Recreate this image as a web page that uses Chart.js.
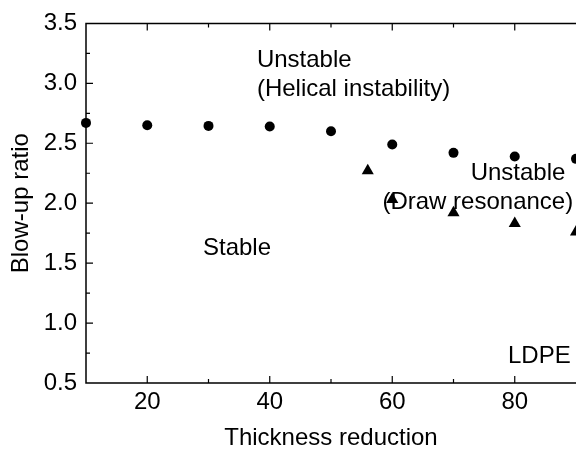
<!DOCTYPE html>
<html>
<head>
<meta charset="utf-8">
<script src="https://cdn.jsdelivr.net/npm/chart.js@4/dist/chart.umd.min.js"></script>
<style>
  body { margin: 0; background: #fff; }
</style>
</head>
<body>
<canvas id="blowChart" width="576" height="453"></canvas>
<script>
// data
var helicalX = [10, 20, 30, 40, 50, 60, 70, 80, 90];
var helicalY = [2.67, 2.65, 2.645, 2.64, 2.60, 2.49, 2.42, 2.39, 2.37];
var drawX = [56, 60, 70, 80, 90];
var drawY = [2.27, 2.03, 1.92, 1.83, 1.76];
var xTickLabels = [20, 40, 60, 80];
var yTickLabels = [0.5, 1.0, 1.5, 2.0, 2.5, 3.0, 3.5];

// region labels (data coordinates, left-aligned)
var notes = [
    { text: 'Unstable', x: 37.9, y: 3.19 },
    { text: '(Helical instability)', x: 37.9, y: 2.95 },
    { text: 'Stable', x: 29.1, y: 1.62 },
    { text: 'Unstable', x: 72.8, y: 2.245 },
    { text: '(Draw resonance)', x: 58.4, y: 2.005 },
    { text: 'LDPE', x: 78.9, y: 0.725 }
];

var FONT = 'Arial, "Liberation Sans", sans-serif';
var FSIZE = 24;

function toPoints(xs, ys) {
    return xs.map(function (x, i) { return { x: x, y: ys[i] }; });
}

// frame, inward ticks and the text labels
var framePlugin = {
    id: 'frame',
    afterDraw: function (chart) {
        var c = chart.ctx, a = chart.chartArea;
        var xs = chart.scales.x, ys = chart.scales.y;
        c.save();
        c.strokeStyle = '#000';
        c.lineWidth = 1.5;
        c.beginPath();
        c.moveTo(a.right + 2, a.top);
        c.lineTo(a.left, a.top);
        c.lineTo(a.left, a.bottom);
        c.lineTo(a.right + 2, a.bottom);
        c.stroke();

        c.lineWidth = 1.2;
        c.beginPath();
        for (var v = 20; v <= 80; v += 10) {
            var px = xs.getPixelForValue(v);
            var len = (v % 20 === 0) ? 7 : 4;
            c.moveTo(px, a.bottom);
            c.lineTo(px, a.bottom - len);
            c.moveTo(px, a.top);
            c.lineTo(px, a.top + len);
        }
        for (var t = 0.75; t < 3.5; t += 0.25) {
            var py = ys.getPixelForValue(t);
            var l = (Math.abs(t * 2 - Math.round(t * 2)) < 1e-6) ? 7 : 4;
            c.moveTo(a.left, py);
            c.lineTo(a.left + l, py);
        }
        c.stroke();

        c.fillStyle = '#000';
        c.font = FSIZE + 'px ' + FONT;
        c.textAlign = 'left';
        c.textBaseline = 'middle';
        notes.forEach(function (n) {
            c.fillText(n.text, xs.getPixelForValue(n.x), ys.getPixelForValue(n.y));
        });
        c.restore();
    }
};

new Chart(document.getElementById('blowChart').getContext('2d'), {
    type: 'scatter',
    data: {
        datasets: [{
            label: 'Helical instability',
            data: toPoints(helicalX, helicalY),
            pointStyle: 'circle',
            pointRadius: 5,
            backgroundColor: '#000',
            borderColor: '#000',
            borderWidth: 0
        }, {
            label: 'Draw resonance',
            data: toPoints(drawX, drawY),
            pointStyle: 'triangle',
            pointRadius: 7,
            backgroundColor: '#000',
            borderColor: '#000',
            borderWidth: 0
        }]
    },
    options: {
        responsive: false,
        animation: false,
        clip: false,
        layout: { autoPadding: false, padding: { top: 20, right: 0, left: 0, bottom: 0 } },
        plugins: {
            legend: { display: false },
            tooltip: { enabled: false }
        },
        scales: {
            x: {
                type: 'linear',
                min: 10,
                max: 90,
                grid: { display: false, drawTicks: false },
                border: { display: false },
                afterBuildTicks: function (s) {
                    s.ticks = xTickLabels.map(function (v) { return { value: v }; });
                },
                afterFit: function (s) {
                    s.height = 70;
                    s.paddingLeft = 0;
                    s.paddingRight = 0;
                },
                ticks: {
                    color: '#000',
                    padding: 5,
                    font: { family: FONT, size: FSIZE }
                },
                title: {
                    display: true,
                    text: 'Thickness reduction',
                    color: '#000',
                    font: { family: FONT, size: FSIZE },
                    padding: { top: 0, bottom: 0 }
                }
            },
            y: {
                min: 0.5,
                max: 3.5,
                grid: { display: false, drawTicks: false },
                border: { display: false },
                afterBuildTicks: function (s) {
                    s.ticks = yTickLabels.map(function (v) { return { value: v }; });
                },
                afterFit: function (s) { s.width = 86; },
                ticks: {
                    color: '#000',
                    padding: 9,
                    font: { family: FONT, size: FSIZE },
                    callback: function (v) { return v.toFixed(1); }
                },
                title: {
                    display: true,
                    text: 'Blow-up ratio',
                    color: '#000',
                    font: { family: FONT, size: FSIZE },
                    padding: { top: 7, bottom: 0 }
                }
            }
        }
    },
    plugins: [framePlugin]
});
</script>
</body>
</html>
